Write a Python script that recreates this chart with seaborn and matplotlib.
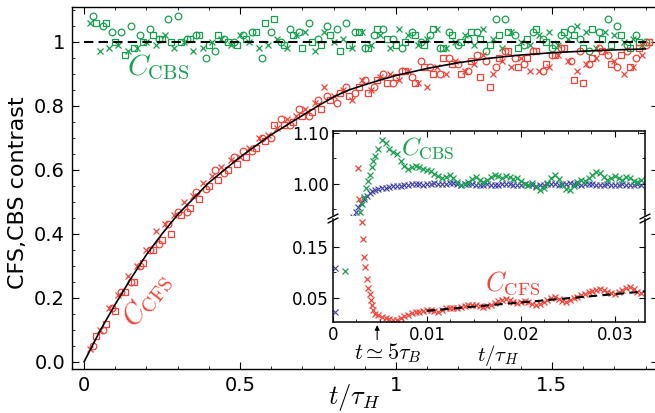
import matplotlib
matplotlib.use("Agg")
import matplotlib.pyplot as plt
import seaborn as sns
from matplotlib.ticker import MultipleLocator, FixedLocator
from matplotlib.lines import Line2D

# ---------------- data: main panel ----------------
t_circ = [0.03, 0.06, 0.09, 0.12, 0.15, 0.18, 0.21, 0.24, 0.27, 0.30,
          0.33, 0.36, 0.39, 0.42, 0.45, 0.48, 0.51, 0.54, 0.57, 0.60,
          0.63, 0.66, 0.69, 0.72, 0.75, 0.78, 0.81, 0.84, 0.87, 0.90,
          0.93, 0.96, 0.99, 1.02, 1.05, 1.08, 1.11, 1.14, 1.17, 1.20,
          1.23, 1.26, 1.29, 1.32, 1.35, 1.38, 1.41, 1.44, 1.47, 1.50,
          1.53, 1.56, 1.59, 1.62, 1.65, 1.68, 1.71, 1.74, 1.77, 1.80]
t_sq = [0.04, 0.07, 0.10, 0.13, 0.16, 0.19, 0.22, 0.25, 0.28, 0.31,
        0.34, 0.37, 0.40, 0.43, 0.46, 0.49, 0.52, 0.55, 0.58, 0.61,
        0.64, 0.67, 0.70, 0.73, 0.76, 0.79, 0.82, 0.85, 0.88, 0.91,
        0.94, 0.97, 1.00, 1.03, 1.06, 1.09, 1.12, 1.15, 1.18, 1.21,
        1.24, 1.27, 1.30, 1.33, 1.36, 1.39, 1.42, 1.45, 1.48, 1.51,
        1.54, 1.57, 1.60, 1.63, 1.66, 1.69, 1.72, 1.75, 1.78, 1.81]
t_x = [0.02, 0.05, 0.08, 0.11, 0.14, 0.17, 0.20, 0.23, 0.26, 0.29,
       0.32, 0.35, 0.38, 0.41, 0.44, 0.47, 0.50, 0.53, 0.56, 0.59,
       0.62, 0.65, 0.68, 0.71, 0.74, 0.77, 0.80, 0.83, 0.86, 0.89,
       0.92, 0.95, 0.98, 1.01, 1.04, 1.07, 1.10, 1.13, 1.16, 1.19,
       1.22, 1.25, 1.28, 1.31, 1.34, 1.37, 1.40, 1.43, 1.46, 1.49,
       1.52, 1.55, 1.58, 1.61, 1.64, 1.67, 1.70, 1.73, 1.76, 1.79]

cfs_circ = [0.05, 0.10, 0.17, 0.22, 0.25, 0.30, 0.35, 0.37, 0.43, 0.47,
            0.47, 0.53, 0.54, 0.60, 0.59, 0.64, 0.66, 0.66, 0.70, 0.70,
            0.76, 0.74, 0.79, 0.77, 0.82, 0.83, 0.81, 0.86, 0.84, 0.88,
            0.86, 0.90, 0.87, 0.91, 0.89, 0.94, 0.92, 0.90, 0.95, 0.93,
            0.91, 0.96, 0.94, 0.92, 0.97, 0.95, 0.93, 0.97, 0.91, 0.96,
            0.98, 0.94, 0.97, 0.93, 0.98, 0.96, 0.92, 0.97, 0.95, 0.99]
cfs_sq = [0.08, 0.12, 0.16, 0.22, 0.25, 0.31, 0.35, 0.38, 0.40, 0.46,
          0.48, 0.51, 0.55, 0.57, 0.60, 0.62, 0.64, 0.67, 0.69, 0.74,
          0.74, 0.75, 0.77, 0.78, 0.79, 0.82, 0.84, 0.83, 0.86, 0.84,
          0.88, 0.87, 0.89, 0.91, 0.87, 0.92, 0.90, 0.95, 0.93, 0.90,
          0.94, 0.89, 0.86, 0.95, 0.97, 0.92, 0.95, 0.97, 0.93, 0.96,
          0.98, 0.88, 0.87, 0.95, 0.97, 0.93, 0.96, 0.92, 0.98, 1.00]
cfs_x = [0.04, 0.10, 0.17, 0.21, 0.27, 0.30, 0.35, 0.41, 0.43, 0.46,
         0.50, 0.52, 0.56, 0.58, 0.61, 0.63, 0.64, 0.67, 0.70, 0.71,
         0.73, 0.76, 0.77, 0.79, 0.81, 0.86, 0.83, 0.85, 0.82, 0.88,
         0.85, 0.89, 0.90, 0.88, 0.91, 0.87, 0.86, 0.92, 0.90, 0.94,
         0.91, 0.93, 0.96, 0.90, 0.94, 0.92, 0.95, 0.91, 0.91, 0.92,
         0.96, 0.94, 0.91, 0.93, 0.95, 0.97, 0.94, 0.90, 0.92, 0.96]

cbs_circ = [1.08, 1.05, 1.03, 1.03, 1.05, 1.02, 1.04, 1.01, 1.07, 1.08,
            1.01, 1.02, 0.95, 0.97, 1.01, 1.00, 1.02, 1.03, 0.95, 1.03,
            1.00, 1.04, 1.03, 1.06, 1.01, 1.05, 1.04, 1.06, 1.03, 0.98,
            1.02, 1.04, 1.01, 0.98, 1.03, 1.00, 1.02, 0.98, 1.03, 0.99,
            1.01, 1.03, 0.97, 1.07, 1.07, 1.02, 0.99, 1.03, 1.01, 0.98,
            1.02, 1.04, 1.01, 0.97, 1.03, 1.07, 1.05, 0.99, 1.02, 1.00]
cbs_sq = [1.06, 1.06, 1.00, 0.96, 0.98, 1.00, 1.02, 1.01, 1.00, 1.00,
          1.01, 1.02, 0.99, 1.02, 1.00, 0.99, 1.01, 1.03, 1.06, 1.07,
          0.99, 1.02, 0.98, 1.00, 0.99, 1.02, 0.97, 0.99, 1.03, 0.98,
          1.04, 1.01, 0.99, 1.00, 1.02, 0.99, 1.04, 0.98, 1.02, 1.00,
          1.03, 1.01, 0.99, 1.02, 1.03, 0.98, 1.01, 1.04, 1.00, 0.99,
          1.03, 1.02, 0.98, 1.04, 1.01, 0.99, 1.02, 0.98, 1.00, 1.00]
cbs_x = [1.06, 0.97, 0.98, 0.99, 0.97, 0.98, 1.00, 0.99, 1.02, 0.98,
         1.00, 0.97, 0.98, 1.00, 1.01, 0.99, 1.02, 1.00, 0.98, 0.99,
         1.01, 0.98, 1.02, 1.03, 0.97, 1.03, 1.00, 1.01, 0.98, 1.03,
         0.99, 1.02, 0.98, 1.04, 1.02, 0.99, 1.01, 1.04, 0.98, 1.00,
         1.02, 0.99, 1.04, 1.01, 0.98, 1.03, 1.00, 0.99, 1.02, 1.03,
         0.99, 1.01, 1.05, 1.03, 0.98, 1.03, 1.02, 1.00, 1.01, 0.99]

fit_t = [0.0, 0.05, 0.10, 0.15, 0.20, 0.25, 0.30, 0.35, 0.40, 0.45,
         0.50, 0.55, 0.60, 0.65, 0.70, 0.75, 0.80, 0.85, 0.90, 0.95,
         1.00, 1.10, 1.20, 1.30, 1.40, 1.50, 1.60, 1.70, 1.80]
fit_y = [0.0, 0.095, 0.18, 0.26, 0.335, 0.40, 0.46, 0.51, 0.56, 0.60,
         0.64, 0.675, 0.71, 0.74, 0.77, 0.80, 0.828, 0.85, 0.866, 0.881,
         0.895, 0.917, 0.935, 0.949, 0.959, 0.966, 0.971, 0.975, 0.978]
ref_t = [0.0, 1.80]
ref_y = [1.0, 1.0]

# ---------------- data: inset ----------------
# dense sampling times, in units of 1e-4 tau_H
t_in_e4 = [48, 52, 56, 60, 64, 68, 72, 76, 80, 84,
           88, 92, 96, 100, 104, 108, 112, 116, 120, 124,
           128, 132, 136, 140, 144, 148, 152, 156, 160, 164,
           168, 172, 176, 180, 184, 188, 192, 196, 200, 204,
           208, 212, 216, 220, 224, 228, 232, 236, 240, 244,
           248, 252, 256, 260, 264, 268, 272, 276, 280, 284,
           288, 292, 296, 300, 304, 308, 312, 316, 320, 324,
           328]
blue_in = [0.990, 0.992, 0.993, 0.994, 0.995, 0.996, 0.995, 0.997, 0.998, 0.999,
           1.000, 0.999, 0.998, 0.999, 1.000, 1.001, 1.000, 0.999, 1.000, 1.002,
           1.001, 0.999, 0.998, 0.999, 1.000, 0.999, 0.998, 0.997, 0.998, 0.999,
           0.998, 0.997, 0.998, 0.999, 1.000, 0.999, 0.998, 0.997, 0.998, 0.999,
           0.998, 0.997, 0.996, 0.997, 0.998, 0.999, 1.000, 0.999, 0.998, 0.999,
           1.000, 1.001, 1.000, 0.999, 0.998, 0.999, 1.000, 0.999, 0.998, 0.997,
           0.998, 0.999, 0.998, 0.997, 0.998, 0.999, 0.998, 0.997, 0.998, 0.999,
           0.998]
green_in = [1.068, 1.086, 1.080, 1.068, 1.063, 1.058, 1.045, 1.035, 1.030, 1.034,
            1.036, 1.033, 1.030, 1.027, 1.025, 1.020, 1.016, 1.012, 1.014, 1.018,
            1.012, 1.004, 0.998, 1.000, 1.004, 1.010, 1.014, 1.008, 1.004, 1.008,
            1.014, 1.018, 1.016, 1.012, 1.016, 1.014, 1.010, 1.012, 1.006, 1.000,
            0.998, 1.002, 0.994, 0.988, 0.992, 1.002, 1.012, 1.018, 1.010, 0.998,
            0.990, 0.988, 0.996, 1.004, 1.008, 1.006, 1.012, 1.018, 1.024, 1.022,
            1.014, 1.008, 1.012, 1.016, 1.012, 1.008, 1.014, 1.012, 1.006, 1.004,
            1.008]
red_in = [0.015, 0.012, 0.010, 0.008, 0.005, 0.006, 0.009, 0.013, 0.016, 0.019,
          0.021, 0.022, 0.024, 0.025, 0.026, 0.024, 0.021, 0.025, 0.029, 0.030,
          0.029, 0.030, 0.031, 0.033, 0.035, 0.036, 0.036, 0.034, 0.032, 0.033,
          0.036, 0.040, 0.044, 0.046, 0.048, 0.045, 0.042, 0.040, 0.041, 0.043,
          0.041, 0.038, 0.036, 0.038, 0.042, 0.046, 0.050, 0.052, 0.048, 0.044,
          0.042, 0.045, 0.049, 0.051, 0.054, 0.057, 0.060, 0.062, 0.064, 0.066,
          0.064, 0.060, 0.058, 0.057, 0.060, 0.064, 0.068, 0.070, 0.066, 0.060,
          0.058]
blue_early_t = [0.0002, 0.0002, 0.0021, 0.0024, 0.0027, 0.0030, 0.0033, 0.0036, 0.0039, 0.0042, 0.0045]
blue_early_y = [0.107, 0.022, 0.935, 0.945, 0.955, 0.963, 0.970, 0.977, 0.982, 0.986, 0.989]
green_early_t = [0.0013, 0.0026, 0.0029, 0.0031, 0.0033, 0.0035, 0.0037, 0.0039, 0.0041, 0.0043, 0.0045]
green_early_y = [0.103, 0.930, 0.945, 0.960, 0.975, 0.992, 1.005, 1.018, 1.033, 1.045, 1.055]
red_early_t = [0.0027, 0.0028, 0.0031, 0.0032, 0.0033, 0.0034, 0.0036, 0.0037, 0.0039,
               0.0040, 0.0041, 0.0043, 0.0045]
red_early_y = [1.031, 0.971, 0.199, 0.164, 0.130, 0.109, 0.087, 0.069, 0.056,
               0.046, 0.036, 0.026, 0.018]
fit_in_t = [0.0100, 0.0332]
fit_in_y = [0.024, 0.062]

RED = "#ef4338"
GREEN = "#17a04c"
BLUE = "#3d3da8"

# ---------------- style ----------------
sns.set_theme(style="ticks")
plt.rcParams["font.family"] = ["DejaVu Sans"]
plt.rcParams["mathtext.fontset"] = "cm"
plt.rcParams["axes.edgecolor"] = "black"
plt.rcParams["xtick.color"] = "black"
plt.rcParams["ytick.color"] = "black"
plt.rcParams["axes.labelcolor"] = "black"
plt.rcParams["text.color"] = "black"


def pts(ax, x, y, marker, color, ms, mew, z=2):
    sns.lineplot(x=x, y=y, ax=ax, estimator=None, sort=False, linestyle="none",
                 marker=marker, markersize=ms, markerfacecolor="none",
                 markeredgecolor=color, markeredgewidth=mew, color=color,
                 legend=False, zorder=z)


W, H = 655, 413
fig = plt.figure(figsize=(W / 100, H / 100), dpi=100)
ax = fig.add_axes([72 / W, 1 - 369 / H, 586 / W, 362 / H])

# CBS (green)
pts(ax, t_circ, cbs_circ, "o", GREEN, 4.8, 0.9)
pts(ax, t_sq, cbs_sq, "s", GREEN, 4.4, 0.9)
pts(ax, t_x, cbs_x, "x", GREEN, 4.4, 0.9)
# CFS (red)
pts(ax, t_circ, cfs_circ, "o", RED, 4.8, 0.9)
pts(ax, t_sq, cfs_sq, "s", RED, 4.4, 0.9)
pts(ax, t_x, cfs_x, "x", RED, 4.4, 0.9)

sns.lineplot(x=ref_t, y=ref_y, ax=ax, color="black", linewidth=1.5,
             linestyle=(0, (4.5, 2.5)), estimator=None, sort=False, zorder=3)
sns.lineplot(x=fit_t, y=fit_y, ax=ax, color="black", linewidth=1.2,
             estimator=None, sort=False, zorder=3)

ax.set_xlim(-0.0385, 1.840)
ax.set_ylim(-0.022, 1.109)
ax.set_xticks([0, 0.5, 1.0, 1.5])
ax.set_xticklabels(["0", "0.5", "1", "1.5"])
ax.xaxis.set_minor_locator(MultipleLocator(0.1))
ax.set_yticks([0, 0.2, 0.4, 0.6, 0.8, 1.0])
ax.set_yticklabels(["0.0", "0.2", "0.4", "0.6", "0.8", "1"])
ax.yaxis.set_minor_locator(MultipleLocator(0.05))
ax.tick_params(which="both", direction="in", top=True, right=True)
ax.tick_params(which="major", length=5, width=0.8, labelsize=14, pad=5)
ax.tick_params(which="minor", length=2.5, width=0.6)
for s in ax.spines.values():
    s.set_linewidth(1.0)

ax.set_xlabel(r"$t/\tau_H$", fontsize=19)
ax.xaxis.set_label_coords((354 - 72) / 586, -0.035)
ax.set_ylabel("CFS,CBS contrast", fontsize=16)
ax.yaxis.set_label_coords((28 - 72) / 586, 0.486)

ax.text(0.237, 0.919, r"$C_{\mathrm{CBS}}$", color=GREEN, fontsize=21,
        ha="center", va="center")
ax.text(0.202, 0.194, r"$C_{\mathrm{CFS}}$", color=RED, fontsize=21,
        ha="center", va="center", rotation=52, rotation_mode="anchor")

# ---------------- inset (broken y axis) ----------------
axu = fig.add_axes([333 / W, 1 - 215 / H, 312 / W, 84 / H])
axl = fig.add_axes([333 / W, 1 - 322 / H, 312 / W, 103 / H])

t_in = [v * 1e-4 for v in t_in_e4]
for a in (axu, axl):
    a.set_facecolor("white")
    pts(a, t_in, blue_in, "x", BLUE, 4.0, 0.8)
    pts(a, blue_early_t, blue_early_y, "x", BLUE, 4.0, 0.8)
    pts(a, t_in, green_in, "x", GREEN, 4.4, 0.9)
    pts(a, green_early_t, green_early_y, "x", GREEN, 4.4, 0.9)
    pts(a, t_in, red_in, "x", RED, 4.4, 0.9)
    pts(a, red_early_t, red_early_y, "x", RED, 4.4, 0.9)
    a.set_xlim(0, 0.0332)
    a.set_xticks([0, 0.01, 0.02, 0.03])
    a.xaxis.set_minor_locator(MultipleLocator(0.0025))
    a.tick_params(which="both", direction="in", left=True, right=True)
    a.tick_params(which="major", length=4, width=0.8, labelsize=12, pad=3)
    a.tick_params(which="minor", length=2.2, width=0.6)
    for s in a.spines.values():
        s.set_linewidth(1.1)

sns.lineplot(x=fit_in_t, y=fit_in_y, ax=axl, color="black", linewidth=1.5,
             linestyle=(0, (4, 2.5)), estimator=None, sort=False, zorder=4)

axu.set_ylim(0.939, 1.104)
axu.set_yticks([1.00, 1.10])
axu.set_yticklabels(["1.00", "1.10"])
axu.yaxis.set_minor_locator(FixedLocator([0.95, 1.05]))
axu.spines["bottom"].set_visible(False)
axu.tick_params(axis="x", which="both", bottom=False, labelbottom=False, top=True)

axl.set_ylim(0.002, 0.204)
axl.set_yticks([0.05, 0.15])
axl.set_yticklabels(["0.05", "0.15"])
axl.yaxis.set_minor_locator(FixedLocator([0.10]))
axl.spines["top"].set_visible(False)
axl.set_xticklabels(["0", "0.01", "0.02", "0.03"])
axl.tick_params(axis="x", which="both", top=False, bottom=True)
axl.set_xlabel(r"$t/\tau_H$", fontsize=15)
axl.xaxis.set_label_coords(0.529, -0.2)

# break marks
for px in (333, 645):
    for dy in (0, 4):
        fig.add_artist(Line2D([(px - 5) / W, (px + 5) / W],
                              [1 - (219 + dy) / H, 1 - (214 + dy) / H],
                              transform=fig.transFigure, color="black", lw=1.0))

fig.text(428 / W, 1 - 148 / H, r"$C_{\mathrm{CBS}}$", color=GREEN, fontsize=18,
         ha="center", va="center")
fig.text(513 / W, 1 - 283 / H, r"$C_{\mathrm{CFS}}$", color=RED, fontsize=19,
         ha="center", va="center")

axl.annotate("", xy=(0.0047, -0.03), xycoords=("data", "axes fraction"),
             xytext=(0.0047, -0.17), textcoords=("data", "axes fraction"),
             arrowprops=dict(arrowstyle="-|>", color="black", lw=0.8,
                             mutation_scale=7, shrinkA=0, shrinkB=0),
             annotation_clip=False)
fig.text(388 / W, 1 - 353 / H, r"$t\simeq 5\tau_B$", fontsize=16,
         ha="center", va="center")

fig.savefig("out.png", dpi=100)
